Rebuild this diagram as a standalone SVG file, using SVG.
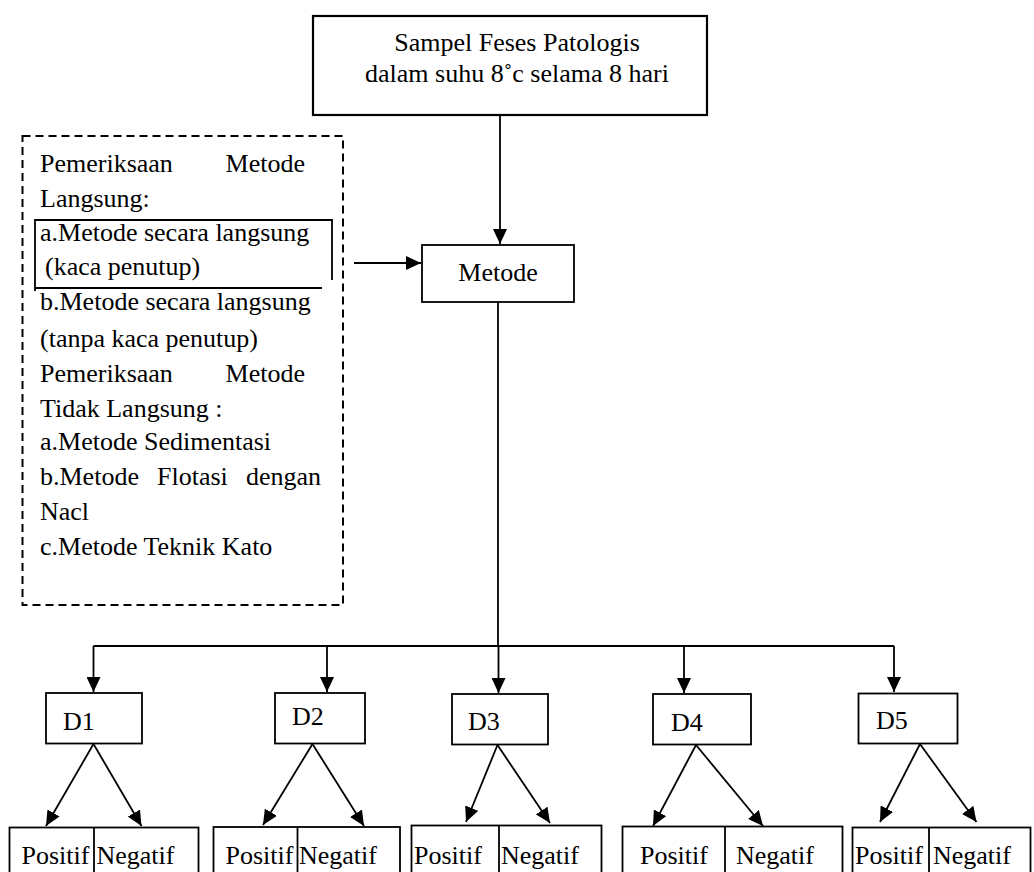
<svg xmlns="http://www.w3.org/2000/svg" width="1034" height="872" viewBox="0 0 1034 872">
<style>
  .t { font-family: 'Liberation Serif', 'Tinos', 'Times New Roman', Times, serif; font-size: 26px; fill: #000; }
  .box { fill: #fff; stroke: #000; stroke-width: 1.8; }
  .ln { fill: none; stroke: #000; stroke-width: 1.8; }
  .dash { fill: none; stroke: #000; stroke-width: 2; stroke-dasharray: 8 5; }
</style>
<defs>
  <marker id="ah" markerUnits="userSpaceOnUse" markerWidth="16" markerHeight="14" refX="15" refY="7" orient="auto">
    <path d="M0,0 L15,7 L0,14 z" fill="#000"/>
  </marker>
</defs>
<rect width="1034" height="872" fill="#fff"/>

<g id="connectors">
  <line class="ln" x1="500" y1="115" x2="500" y2="244" marker-end="url(#ah)"/>
  <line class="ln" x1="354" y1="263" x2="421" y2="263" marker-end="url(#ah)"/>
  <line class="ln" x1="498" y1="302" x2="498" y2="646"/>
  <line class="ln" x1="93.5" y1="646" x2="894" y2="646"/>
  <line class="ln" x1="93.5" y1="646" x2="93.5" y2="692" marker-end="url(#ah)"/>
  <line class="ln" x1="327" y1="646" x2="327" y2="692" marker-end="url(#ah)"/>
  <line class="ln" x1="498.5" y1="646" x2="498.5" y2="693" marker-end="url(#ah)"/>
  <line class="ln" x1="684" y1="646" x2="684" y2="693" marker-end="url(#ah)"/>
  <line class="ln" x1="894" y1="646" x2="894" y2="692" marker-end="url(#ah)"/>
  <line class="ln" x1="93.5" y1="744" x2="46" y2="826" marker-end="url(#ah)"/>
  <line class="ln" x1="93.5" y1="744" x2="141.5" y2="826" marker-end="url(#ah)"/>
  <line class="ln" x1="312.5" y1="744" x2="263" y2="825" marker-end="url(#ah)"/>
  <line class="ln" x1="312.5" y1="744" x2="364" y2="826" marker-end="url(#ah)"/>
  <line class="ln" x1="497.5" y1="745" x2="466" y2="822" marker-end="url(#ah)"/>
  <line class="ln" x1="497.5" y1="745" x2="550" y2="823" marker-end="url(#ah)"/>
  <line class="ln" x1="696" y1="745" x2="653" y2="826" marker-end="url(#ah)"/>
  <line class="ln" x1="696" y1="745" x2="763" y2="826" marker-end="url(#ah)"/>
  <line class="ln" x1="920" y1="744" x2="880" y2="822" marker-end="url(#ah)"/>
  <line class="ln" x1="920" y1="744" x2="976.5" y2="822" marker-end="url(#ah)"/>
</g>

<g id="sampel">
  <rect x="313" y="16" width="394" height="99" fill="#fff" stroke="#000" stroke-width="2.2"/>
  <text class="t" x="517" y="51" text-anchor="middle">Sampel Feses Patologis</text>
  <text class="t" x="517" y="82" text-anchor="middle">dalam suhu 8˚c selama 8 hari</text>
</g>

<g id="pemeriksaan">
  <rect class="dash" x="22.5" y="136" width="320.5" height="469"/>
  <path class="ln" d="M332,280 V220 H35 V291"/>
  <line class="ln" x1="35" y1="288" x2="322" y2="288"/>
  <text class="t" x="40" y="172">Pemeriksaan</text>
  <text class="t" x="305" y="172" text-anchor="end">Metode</text>
  <text class="t" x="40" y="207">Langsung:</text>
  <text class="t" x="40" y="241">a.Metode secara langsung</text>
  <text class="t" x="45" y="275">(kaca penutup)</text>
  <text class="t" x="40" y="310">b.Metode secara langsung</text>
  <text class="t" x="40" y="347">(tanpa kaca penutup)</text>
  <text class="t" x="40" y="382">Pemeriksaan</text>
  <text class="t" x="305" y="382" text-anchor="end">Metode</text>
  <text class="t" x="40" y="417">Tidak Langsung :</text>
  <text class="t" x="40" y="450">a.Metode Sedimentasi</text>
  <text class="t" x="40" y="485">b.Metode</text>
  <text class="t" x="157" y="485">Flotasi</text>
  <text class="t" x="321" y="485" text-anchor="end">dengan</text>
  <text class="t" x="40" y="520">Nacl</text>
  <text class="t" x="40" y="555">c.Metode Teknik Kato</text>
</g>

<g id="metode">
  <rect class="box" x="422" y="245" width="152" height="57"/>
  <text class="t" x="498" y="281" text-anchor="middle">Metode</text>
</g>

<g id="d1">
  <rect class="box" x="46" y="693" width="96" height="50.5"/>
  <text class="t" x="63" y="730">D1</text>
</g>
<g id="d2">
  <rect class="box" x="275" y="693" width="90" height="50.5"/>
  <text class="t" x="292" y="725">D2</text>
</g>
<g id="d3">
  <rect class="box" x="452" y="694" width="96" height="50.5"/>
  <text class="t" x="468" y="730">D3</text>
</g>
<g id="d4">
  <rect class="box" x="653" y="694" width="98" height="50.5"/>
  <text class="t" x="671" y="731">D4</text>
</g>
<g id="d5">
  <rect class="box" x="858.5" y="693.5" width="99" height="50"/>
  <text class="t" x="876" y="729">D5</text>
</g>

<g id="hasil1">
  <rect class="box" x="9.5" y="827.5" width="189" height="60"/>
  <line class="ln" x1="94" y1="827.5" x2="94" y2="880"/>
  <text class="t" x="21.5" y="864">Positif</text>
  <text class="t" x="96.5" y="864">Negatif</text>
</g>
<g id="hasil2">
  <rect class="box" x="213.5" y="827" width="186.5" height="60"/>
  <line class="ln" x1="297.5" y1="827" x2="297.5" y2="880"/>
  <text class="t" x="225.5" y="864">Positif</text>
  <text class="t" x="299" y="864">Negatif</text>
</g>
<g id="hasil3">
  <rect class="box" x="411.5" y="825.5" width="190" height="60"/>
  <line class="ln" x1="499" y1="825.5" x2="499" y2="880"/>
  <text class="t" x="414" y="864">Positif</text>
  <text class="t" x="501" y="864">Negatif</text>
</g>
<g id="hasil4">
  <rect class="box" x="622.5" y="826.5" width="220" height="60"/>
  <line class="ln" x1="725" y1="826.5" x2="725" y2="880"/>
  <text class="t" x="640" y="864">Positif</text>
  <text class="t" x="736" y="864">Negatif</text>
</g>
<g id="hasil5">
  <rect class="box" x="852.5" y="827.5" width="178" height="60"/>
  <line class="ln" x1="929" y1="827.5" x2="929" y2="880"/>
  <text class="t" x="855" y="864">Positif</text>
  <text class="t" x="933" y="864">Negatif</text>
</g>
</svg>
